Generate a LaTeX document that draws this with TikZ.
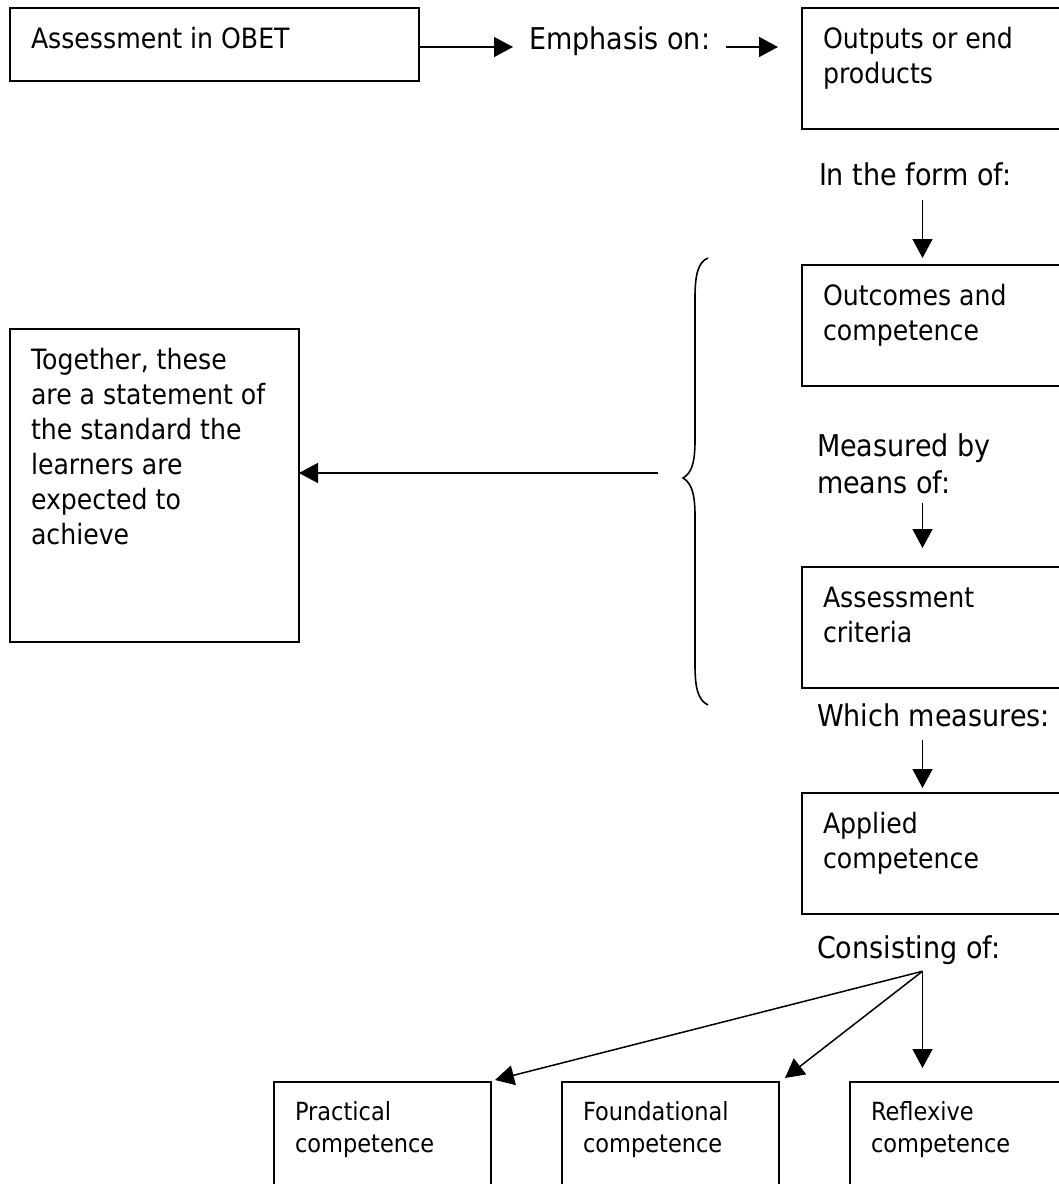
\documentclass[tikz,border=0pt]{standalone}
\usepackage{fontspec}
\setmainfont{DejaVu Sans}[FakeStretch=0.9]
\usetikzlibrary{arrows.meta,calc}
\newcommand{\boxtxt}[4]{\parbox[c][#2][t]{#1}{\raggedright\rule{0pt}{#3}#4}}
\begin{document}
\begin{tikzpicture}[x=1pt,y=-1pt,
  box/.style={draw, line width=1.7pt, rectangle, anchor=north west, inner xsep=21pt, inner ysep=0pt, outer sep=0pt, font=\fontsize{28}{35}\selectfont},
  sbox/.style={box, font=\fontsize{25}{32}\selectfont},
  lab/.style={inner sep=0pt, outer sep=0pt, anchor=base west, font=\fontsize{30}{37}\selectfont},
  arr/.style={line width=1.5pt, -{Triangle[length=19pt,width=20pt]}},
  brace/.style={line width=1.6pt}]
\useasboundingbox (0,0) rectangle (1059,1184);
\fill[white] (0,0) rectangle (1059,1184);
\clip (0,0) rectangle (1059,1184);

% boxes
\node[box] (A) at (10,8) {\boxtxt{367pt}{73pt}{40pt}{Assessment in OBET}};
\node[box] (out1) at (802,8) {\boxtxt{226pt}{121pt}{40pt}{Outputs or end\\products}};
\node[box] (out2) at (802,265) {\boxtxt{226pt}{121pt}{40pt}{Outcomes and\\competence}};
\node[box] (crit) at (802,567) {\boxtxt{226pt}{121pt}{40pt}{Assessment\\criteria}};
\node[box] (appl) at (802,793) {\boxtxt{226pt}{121pt}{40pt}{Applied\\competence}};
\node[box] (left) at (10,329) {\boxtxt{247pt}{313pt}{40pt}{Together, these\\are a statement of\\the standard the\\learners are\\expected to\\achieve}};
\node[sbox] (prac) at (274,1082) {\boxtxt{175pt}{130pt}{38pt}{Practical\\competence}};
\node[sbox] (found) at (562,1082) {\boxtxt{175pt}{130pt}{38pt}{Foundational\\competence}};
\node[sbox] (refl) at (850,1082) {\boxtxt{200pt}{130pt}{38pt}{Reflexive\\competence}};

% labels
\node[lab, inner xsep=16pt] (emph) at (513,49) {Emphasis on:};
\node[lab] (l1) at (819,185) {In the form of:};
\node[lab] (l2) at (817,456) {\parbox[t]{220pt}{Measured by\\means of:}};
\node[lab] (l3) at (817,726) {Which measures:};
\node[lab] (l4) at (817,958) {Consisting of:};

% helper coordinates
\coordinate (ax) at (922.5,0);
\coordinate (a1) at ([yshift=-2.5pt]A.east);
\coordinate (a2) at (a1 -| emph.east);
\coordinate (fan) at ([yshift=-7pt]l4.south -| ax);
\coordinate (bl) at (658,473);

% connectors
\draw[arr] (a1) -- (a1 -| emph.west);
\draw[arr, shorten >=24pt] (a2) -- (a2 -| out1.west);
\draw[arr, shorten <=15pt, shorten >=7pt] (l1.south -| ax) -- (out2.north -| ax);
\draw[arr, shorten <=10pt, shorten >=19pt] (l2.south -| ax) -- (crit.north -| ax);
\draw[arr, shorten <=14pt, shorten >=5pt] (l3.south -| ax) -- (appl.north -| ax);
\draw[arr] (fan) -- ([shift={(4pt,2pt)}]prac.north east);
\draw[arr] (fan) -- ([shift={(6pt,4pt)}]found.north east);
\draw[arr, shorten >=14pt] (fan) -- (fan |- refl.north);
\draw[arr] (bl) -- (bl -| left.east);

% brace
\draw[brace] (708,258) .. controls (698,262) and (695,275) .. (695,298)
  -- (695,440) .. controls (695,465) and (691,473) .. (683,478)
  .. controls (691,483) and (695,492) .. (695,516)
  -- (695,665) .. controls (695,688) and (698,700) .. (708,705);
\end{tikzpicture}
\end{document}
